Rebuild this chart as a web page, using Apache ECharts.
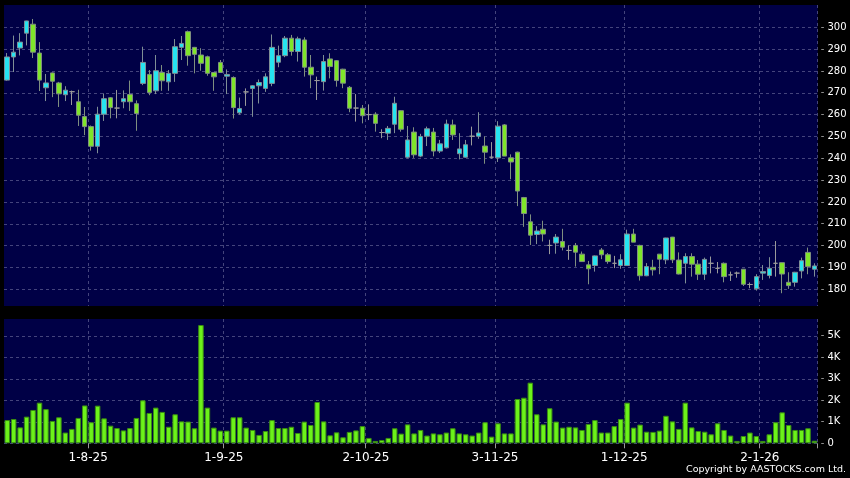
<!DOCTYPE html>
<html><head><meta charset="utf-8">
<script src="https://cdn.jsdelivr.net/npm/echarts@6/dist/echarts.min.js"></script>
<style>html,body{margin:0;padding:0;background:#000;}#c{width:850px;height:478px;}</style>
</head><body><div id="c"></div>
<script>
const dates = [
'15-7-25','16-7-25','17-7-25','18-7-25','21-7-25','22-7-25','23-7-25','24-7-25','25-7-25','28-7-25','29-7-25','30-7-25','31-7-25',
'1-8-25','4-8-25','5-8-25','6-8-25','7-8-25','8-8-25','11-8-25','12-8-25','13-8-25','14-8-25','15-8-25','18-8-25','19-8-25','20-8-25','21-8-25','22-8-25','25-8-25','26-8-25','27-8-25','28-8-25','29-8-25',
'1-9-25','2-9-25','3-9-25','4-9-25','5-9-25','8-9-25','9-9-25','10-9-25','11-9-25','12-9-25','15-9-25','16-9-25','17-9-25','18-9-25','19-9-25','22-9-25','23-9-25','24-9-25','25-9-25','26-9-25','29-9-25','30-9-25',
'2-10-25','3-10-25','6-10-25','8-10-25','9-10-25','10-10-25','13-10-25','14-10-25','15-10-25','16-10-25','17-10-25','20-10-25','21-10-25','22-10-25','23-10-25','24-10-25','27-10-25','28-10-25','30-10-25','31-10-25',
'3-11-25','4-11-25','5-11-25','6-11-25','7-11-25','10-11-25','11-11-25','12-11-25','13-11-25','14-11-25','17-11-25','18-11-25','19-11-25','20-11-25','21-11-25','24-11-25','25-11-25','26-11-25','27-11-25','28-11-25',
'1-12-25','2-12-25','3-12-25','4-12-25','5-12-25','8-12-25','9-12-25','10-12-25','11-12-25','12-12-25','15-12-25','16-12-25','17-12-25','18-12-25','19-12-25','22-12-25','23-12-25','24-12-25','29-12-25','30-12-25','31-12-25',
'2-1-26','5-1-26','6-1-26','7-1-26','8-1-26','9-1-26','12-1-26','13-1-26','14-1-26'
];
const opens = [275.8,286.4,290.5,297.3,301.4,288.2,272.3,279.1,274.5,269.1,270.5,265.9,259.1,254.5,245.5,260.2,267.7,263.0,265.9,269.2,
265.0,274.3,278.4,270.9,279.3,275.0,278.9,290.8,298.0,290.8,287.3,286.5,279.3,283.9,277.6,277.0,260.8,270.4,272.0,273.2,
272.0,274.3,284.0,287.0,295.0,288.9,294.2,281.7,275.6,275.1,285.5,284.7,280.8,272.5,263.0,262.9,260.0,260.2,251.8,251.5,
255.6,261.8,240.5,252.0,241.0,250.1,252.0,243.3,244.8,255.3,242.1,240.5,250.1,250.1,245.6,240.5,240.2,255.3,240.2,242.8,
222.0,210.9,205.1,207.5,200.1,201.2,201.9,197.8,200.1,196.1,191.2,190.9,198.0,195.8,191.9,190.9,190.9,205.3,200.1,186.2,
190.1,196.1,193.5,203.9,193.4,191.9,195.0,191.5,186.9,191.9,189.6,191.9,186.6,187.4,189.2,182.2,180.2,187.4,186.3,191.9,
192.2,183.2,183.2,188.4,196.9,189.2];
const closes = [286.4,288.6,293.2,302.9,288.6,275.8,274.5,275.3,269.5,271.2,270.5,259.7,254.5,245.5,260.2,267.3,263.2,263.0,267.3,265.9,
260.5,283.9,270.1,280.1,275.5,278.9,291.1,292.6,287.0,287.6,283.5,278.9,277.3,279.3,278.4,263.2,262.8,270.4,273.2,274.7,
277.3,290.8,287.0,295.0,288.9,294.7,281.7,278.2,275.6,284.3,282.0,275.6,274.4,262.9,263.0,259.5,260.0,256.0,251.8,253.7,
265.2,253.3,248.4,241.6,250.0,253.5,243.3,246.6,255.7,250.7,244.3,246.2,250.1,251.6,242.8,240.5,254.7,241.0,238.3,225.0,
214.7,204.8,206.7,205.3,200.1,203.9,199.3,197.8,197.0,192.7,189.4,195.3,195.8,192.7,191.9,193.5,205.3,201.6,186.2,190.4,
188.9,193.8,203.5,193.5,187.0,195.0,191.5,186.9,193.7,191.9,189.6,185.8,186.6,187.4,182.3,182.2,185.8,188.1,189.6,191.9,
187.0,181.7,187.8,193.1,190.4,190.7];
const lows = [275.5,279.5,287.1,291.7,285.9,270.8,266.2,268.0,263.5,266.2,264.4,254.8,250.6,243.5,242.3,257.1,258.3,258.3,262.9,261.7,
252.6,273.5,268.9,269.4,270.9,270.9,275.0,285.0,282.4,278.9,280.1,277.8,270.9,279.3,269.4,258.2,260.0,264.0,259.0,265.1,
270.4,273.0,281.7,286.3,287.0,284.3,277.4,272.1,266.7,271.0,276.6,272.8,272.1,261.1,256.8,256.0,257.5,252.2,249.2,248.4,
251.5,252.2,240.0,240.2,240.5,245.6,240.9,242.4,244.5,248.4,239.5,240.3,245.9,248.9,237.5,239.8,238.3,241.0,230.4,218.1,
208.6,200.3,200.7,201.9,196.1,196.3,197.8,193.5,190.4,192.5,182.3,188.1,193.8,191.7,189.7,189.4,190.9,201.6,184.0,186.0,
186.3,186.9,191.5,192.0,186.8,182.7,185.8,184.3,184.3,187.3,187.3,183.2,183.8,185.3,181.5,180.5,179.4,184.3,185.0,185.8,
178.2,180.2,181.2,185.0,186.9,185.8];
const highs = [288.2,296.2,297.3,303.0,303.8,293.2,278.6,279.3,275.0,273.0,271.0,271.4,263.5,255.0,263.6,269.7,268.0,271.3,271.1,275.6,
266.5,291.1,280.4,287.3,282.7,280.4,294.6,296.0,298.5,291.0,290.4,287.0,279.5,285.0,280.7,277.5,267.8,272.0,273.5,276.1,
278.9,296.7,291.6,296.0,296.5,295.7,295.4,287.3,277.4,287.3,288.1,285.0,281.0,273.1,269.4,264.4,264.7,261.1,253.3,254.8,
268.2,262.0,254.8,254.2,251.2,254.5,253.9,248.4,257.7,257.7,251.5,248.4,254.5,261.1,250.0,247.4,257.0,255.7,241.8,243.0,
222.3,214.3,208.9,211.4,202.7,205.3,207.7,200.1,201.2,197.3,193.0,195.5,198.9,196.6,195.3,196.1,207.3,207.7,200.4,192.0,
193.5,196.1,203.6,204.0,196.9,196.5,196.5,193.4,194.5,195.0,192.5,192.3,188.1,188.1,189.3,183.1,186.9,191.1,194.7,202.1,
192.3,187.8,188.0,194.5,199.1,191.9];
const volumes = [1080,1130,740,1240,1550,1890,1590,1040,1210,500,670,1180,1760,980,1750,1160,820,710,600,710,
1180,2000,1410,1660,1460,770,1350,1020,1010,700,5500,1660,730,590,590,1210,1210,730,620,390,
570,1080,710,710,770,480,1010,850,1920,1020,370,510,280,530,600,800,250,110,150,250,
700,450,880,460,620,360,460,420,500,700,460,420,360,500,980,310,930,460,460,2060,
2120,2820,1350,880,1630,1010,730,770,740,620,900,1080,500,500,800,1130,1890,730,870,540,
530,590,1280,1020,670,1890,740,570,540,420,930,620,360,110,340,500,340,110,420,980,
1440,850,620,620,700,120];
const priceTicks = [180,190,200,210,220,230,240,250,260,270,280,290,300];
const volumeTicks = [0,1000,2000,3000,4000,5000];
const monthLabels = ['1-8-25','1-9-25','2-10-25','3-11-25','1-12-25','2-1-26'];

const candleData = opens.map((o, i) => [o, closes[i], lows[i], highs[i]]);
const isMonth = (idx, val) => monthLabels.indexOf(val) >= 0;
const gridColor = '#44447c';
const FONT = 'DejaVu Sans';

const chart = echarts.init(document.getElementById('c'), null, {renderer: 'canvas'});
chart.setOption({
  animation: false,
  backgroundColor: '#000000',
  grid: [
    {left: 4, top: 5, width: 813.7, height: 301, show: true, backgroundColor: '#000046', borderWidth: 0},
    {left: 4, top: 319, width: 813.7, height: 124.3, show: true, backgroundColor: '#000046', borderWidth: 0}
  ],
  xAxis: [
    {type: 'category', gridIndex: 0, data: dates, boundaryGap: true,
     axisLine: {show: false}, axisTick: {show: false}, axisLabel: {show: false},
     splitLine: {show: true, interval: isMonth, lineStyle: {color: gridColor, type: [3, 3], width: 1}}},
    {type: 'category', gridIndex: 1, data: dates, boundaryGap: true,
     axisLine: {show: false},
     axisTick: {show: true, interval: isMonth, length: 5, lineStyle: {color: '#9a9a9a'}},
     axisLabel: {show: true, interval: isMonth, color: '#ffffff', fontFamily: FONT, fontSize: 12, margin: 9, padding: [0, 6, 0, 0]},
     splitLine: {show: true, interval: isMonth, lineStyle: {color: gridColor, type: [3, 3], width: 1}}}
  ],
  yAxis: [
    {type: 'value', gridIndex: 0, position: 'right', min: 172.35, max: 310.2, scale: true,
     axisLine: {show: false},
     axisTick: {show: false, customValues: priceTicks},
     axisLabel: {show: true, customValues: priceTicks, color: '#ffffff', fontFamily: FONT, fontSize: 10, margin: 3,
       formatter: v => '{d|-} ' + v, rich: {d: {color: '#a0a0a0', fontFamily: FONT, fontSize: 10}}},
     splitLine: {show: true, lineStyle: {color: gridColor, type: [3, 3], width: 1}}},
    {type: 'value', gridIndex: 1, position: 'right', min: 0, max: 5780,
     axisLine: {show: false},
     axisTick: {show: false, customValues: volumeTicks},
     axisLabel: {show: true, customValues: volumeTicks, color: '#ffffff', fontFamily: FONT, fontSize: 10, margin: 3,
       formatter: v => '{d|-} ' + (v === 0 ? '0' : (v / 1000) + 'K'), rich: {d: {color: '#a0a0a0', fontFamily: FONT, fontSize: 10}}},
     splitLine: {show: true, lineStyle: {color: gridColor, type: [3, 3], width: 1}}}
  ],
  series: [
    {type: 'candlestick', xAxisIndex: 0, yAxisIndex: 0, data: candleData, barWidth: 5,
     itemStyle: {color: '#26e4f0', color0: '#7fe52a', borderColor: '#7f8f95', borderColor0: '#7f8f80', borderColorDoji: '#9a9a9a', borderWidth: 1}},
    {type: 'bar', xAxisIndex: 1, yAxisIndex: 1, data: volumes, barWidth: 5.5,
     itemStyle: {color: '#6cf21a', borderColor: '#3a8c12', borderWidth: 1}}
  ],
  graphic: [
    {type: 'text', right: 4, top: 465, style: {text: 'Copyright by AASTOCKS.com Ltd.', fill: '#ffffff', font: '9.5px "DejaVu Sans"'}}
  ]
});
</script></body></html>
